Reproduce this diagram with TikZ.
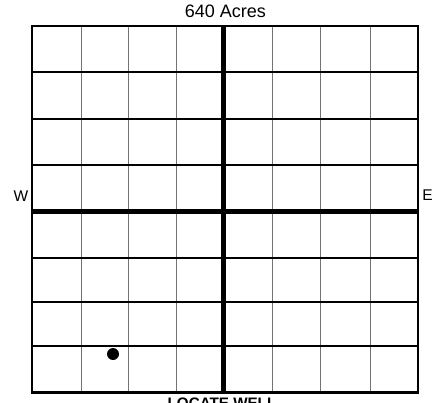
\documentclass[tikz,border=0pt]{standalone}
\usepackage{fontspec}
\setmainfont{Liberation Sans}
\begin{document}
\begin{tikzpicture}[x=1pt,y=-1pt,
  thinv/.style={line width=1pt,draw=black!55},
  midh/.style={line width=2.2pt},
  heavy/.style={line width=5pt},
  lbl/.style={inner sep=0pt,font=\fontsize{15.5}{17}\selectfont}]
\clip (0,0) rectangle (433,403);
\useasboundingbox (0,0) rectangle (433,403);
% thin vertical lines
\foreach \x in {81,128,176,272,320,370}{\draw[thinv] (\x,26) -- (\x,392.5);}
% horizontal interior lines
\foreach \y in {71.7,119,165.3,258.3,302.3,346}{\draw[midh] (32,\y) -- (418,\y);}
% center lines
\draw[heavy] (223.5,26) -- (223.5,392.5);
\draw[heavy] (32,211.5) -- (418,211.5);
% border
\draw[line width=2.2pt] (32,26) rectangle (418,392.5);
% well
\fill (113,354) circle (6);
% labels
\node[lbl,font=\fontsize{18}{20}\selectfont,anchor=base] (title) at (225.5,17.5) {640 Acres};
\node[lbl,anchor=base] (w) at (21,201) {W};
\node[lbl,anchor=base] (e) at (427.5,200.5) {E};
\node[lbl,font=\bfseries\fontsize{15.2}{17}\selectfont,anchor=base] (loc) at (222,408) {LOCATE WELL};
\end{tikzpicture}
\end{document}
